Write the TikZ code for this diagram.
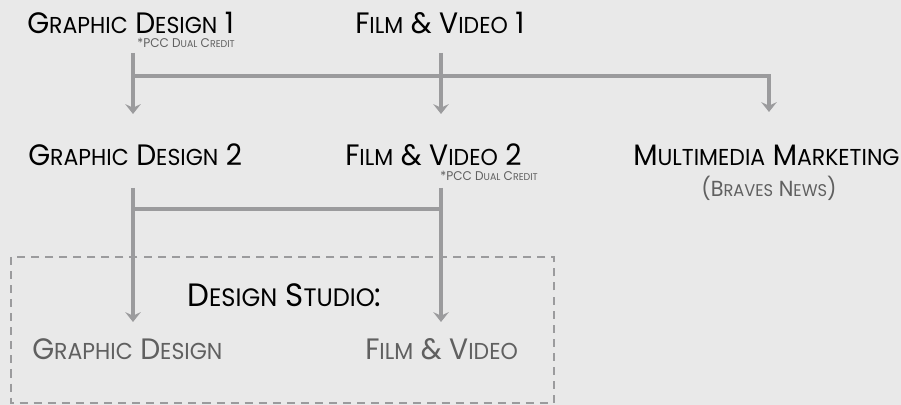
\documentclass[tikz,border=0pt]{standalone}
\usepackage{fontspec}
\setmainfont{Poppins}[FakeStretch=0.955]
\usepackage{xcolor}
\usetikzlibrary{arrows.meta,positioning}
\definecolor{bgray}{HTML}{E9E9E9}
\definecolor{lgray}{HTML}{9B9B9D}
\definecolor{tgray}{HTML}{606060}
\newcommand{\lc}[1]{\scalebox{0.78}{#1}}

\begin{document}
\begin{tikzpicture}[x=0.025cm,y=-0.025cm,
    title/.style={inner sep=0pt,anchor=base west,font=\fontsize{21pt}{24pt}\selectfont,text=black},
    sub/.style={title,text=tgray},
    note/.style={inner sep=0pt,anchor=base east,font=\fontsize{9pt}{10pt}\selectfont,text=tgray},
    link/.style={draw=lgray,line width=2.6pt,-{Stealth[length=7pt,width=11pt,inset=2.5pt]}}]
  \path[fill=bgray] (0,0) rectangle (901,405);
  \useasboundingbox (0,0) rectangle (901,405);
  % courses
  \path
    (27,34) node[title] (gd1) {G\lc{RAPHIC} D\lc{ESIGN} 1}
    (235,48) node[note] (pcc1) {*PCC D\lc{UAL} C\lc{REDIT}}
    (355,34) node[title] (fv1) {F\lc{ILM} \& V\lc{IDEO} 1}
    (28,166) node[title] (gd2) {G\lc{RAPHIC} D\lc{ESIGN} 2}
    (345,166) node[title] (fv2) {F\lc{ILM} \& V\lc{IDEO} 2}
    (538,181) node[note] (pcc2) {*PCC D\lc{UAL} C\lc{REDIT}}
    (633,166) node[title] (mm) {M\lc{ULTIMEDIA} M\lc{ARKETING}}
    (769,197) node[inner sep=0pt,anchor=base,font=\fontsize{15.5pt}{17pt}\selectfont,text=tgray] (bn) {(B\lc{RAVES} N\lc{EWS})}
    (187,307) node[title,font=\fontsize{23pt}{27pt}\selectfont] (ds) {D\lc{ESIGN} S\lc{TUDIO}:}
    (32,360) node[sub] (gdg) {G\lc{RAPHIC} D\lc{ESIGN}}
    (365,360) node[sub] (fvg) {F\lc{ILM} \& V\lc{IDEO}};
  % studio box
  \draw[lgray,line width=1.4pt,dash pattern=on 5.7pt off 4.3pt] (11,257) rectangle (554,403);
  % connectors
  \path
    (133,53) coordinate (a1) (441,53) coordinate (a2) (133,76) coordinate (h1)
    (133,114) coordinate (e1) (441,114) coordinate (e2) (769,112) coordinate (e3)
    (133,188) coordinate (b1) (441,188) coordinate (b2) (133,209) coordinate (h2)
    (133,322) coordinate (f1) (441,322) coordinate (f2);
  \draw[link] (a1) -- (e1);
  \draw[link] (a2) -- (e2);
  \draw[link] (h1) -| (e3);
  \draw[link] (b1) -- (f1);
  \draw[link] (b2) -- (f2);
  \draw[draw=lgray,line width=2.6pt] (h2) -- (h2 -| b2);
\end{tikzpicture}
\end{document}
